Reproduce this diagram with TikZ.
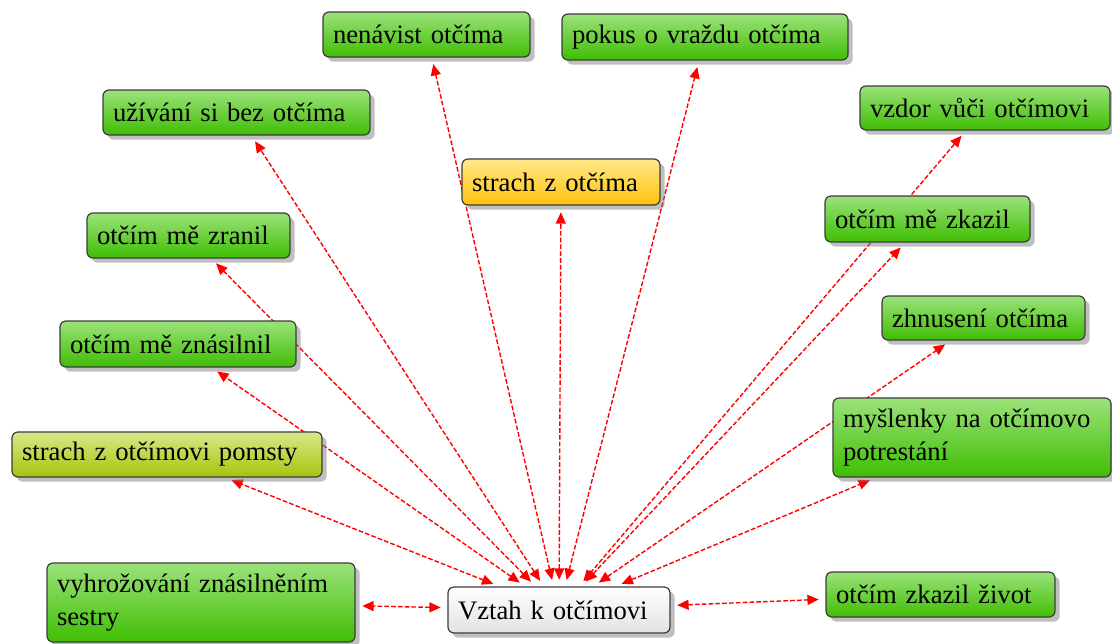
\documentclass[tikz,border=0pt]{standalone}
\usepackage{fontspec}
\setmainfont{Liberation Serif}
\usetikzlibrary{arrows.meta,shadows,backgrounds}
\definecolor{gtop}{HTML}{9BE27A}
\definecolor{gbot}{HTML}{3FBE04}
\definecolor{ytop}{HTML}{FFE98A}
\definecolor{ybot}{HTML}{FFC20A}
\definecolor{ltop}{HTML}{D8E88A}
\definecolor{lbot}{HTML}{A6C40C}
\definecolor{wtop}{HTML}{FFFFFF}
\definecolor{wbot}{HTML}{E2E2E2}
\definecolor{edgegray}{HTML}{3C3C3C}
\definecolor{linkred}{HTML}{FF0000}
\tikzset{
  basebox/.style={draw=edgegray, line width=0.9pt, rounded corners=4.5pt,
    inner xsep=7.5pt, inner ysep=0pt, align=left,
    font=\fontsize{20}{25}\selectfont,
    drop shadow={shadow xshift=3.5pt, shadow yshift=-3.5pt, fill=black!50, opacity=0.5}},
  gbox/.style={basebox, top color=gtop, bottom color=gbot},
  ybox/.style={basebox, top color=ytop, bottom color=ybot},
  lbox/.style={basebox, top color=ltop, bottom color=lbot},
  wbox/.style={basebox, top color=wtop, bottom color=wbot},
  link/.style={draw=linkred, line width=1.05pt, dash pattern=on 3.5pt off 1.6pt,
    {Triangle[length=8.5pt,width=7.5pt]}-{Triangle[length=8.5pt,width=7.5pt]},
    shorten <=5pt, shorten >=5pt}
}
\begin{document}
\begin{tikzpicture}[x=0.75pt,y=-0.75pt]
\useasboundingbox (0,0) rectangle (1112,643);
\node[gbox, text width=140.25pt, minimum height=33.75pt] (nenavist) at (426.5,34.5) {nenávist otčíma};
\node[gbox, text width=199.5pt, minimum height=34.5pt] (pokus) at (705,37) {pokus o vraždu otčíma};
\node[gbox, text width=185.25pt, minimum height=33.75pt] (uzivani) at (236.5,112.5) {užívání si bez otčíma};
\node[gbox, text width=172.5pt, minimum height=33pt] (vzdor) at (985,108) {vzdor vůči otčímovi};
\node[ybox, text width=133.5pt, minimum height=34.5pt] (strach) at (561,182) {strach z otčíma};
\node[gbox, text width=138.75pt, minimum height=34.5pt] (zkazil) at (927.5,219) {otčím mě zkazil};
\node[gbox, text width=137.25pt, minimum height=33.75pt] (zranil) at (188.5,235.5) {otčím mě zranil};
\node[gbox, text width=137.25pt, minimum height=33pt] (zhnuseni) at (983.5,318) {zhnusení otčíma};
\node[gbox, text width=162pt, minimum height=34.5pt] (znasilnil) at (178,344) {otčím mě znásilnil};
\node[gbox, text width=193.5pt, minimum height=59.25pt] (myslenky) at (972,437.5) {myšlenky na otčímovo\\potrestání};
\node[lbox, text width=217.5pt, minimum height=33.75pt] (pomsty) at (167,454.5) {strach z otčímovi pomsty};
\node[gbox, text width=216pt, minimum height=59.25pt] (vyhroz) at (201,602.5) {vyhrožování znásilněním\\sestry};
\node[wbox, text width=151.5pt, minimum height=34.5pt] (vztah) at (559,610) {Vztah k otčímovi};
\node[gbox, text width=156.75pt, minimum height=33.75pt] (zivot) at (940.5,594.5) {otčím zkazil život};
\begin{scope}[on background layer]
\draw[link] (vztah) -- (nenavist);
\draw[link] (vztah) -- (pokus);
\draw[link] (vztah) -- (uzivani);
\draw[link] (vztah) -- (vzdor);
\draw[link] (vztah) -- (strach);
\draw[link] (vztah) -- (zkazil);
\draw[link] (vztah) -- (zranil);
\draw[link] (vztah) -- (zhnuseni);
\draw[link] (vztah) -- (znasilnil);
\draw[link] (vztah) -- (myslenky);
\draw[link] (vztah) -- (pomsty);
\draw[link] (vztah) -- (vyhroz);
\draw[link] (vztah) -- (zivot);
\end{scope}
\end{tikzpicture}
\end{document}
